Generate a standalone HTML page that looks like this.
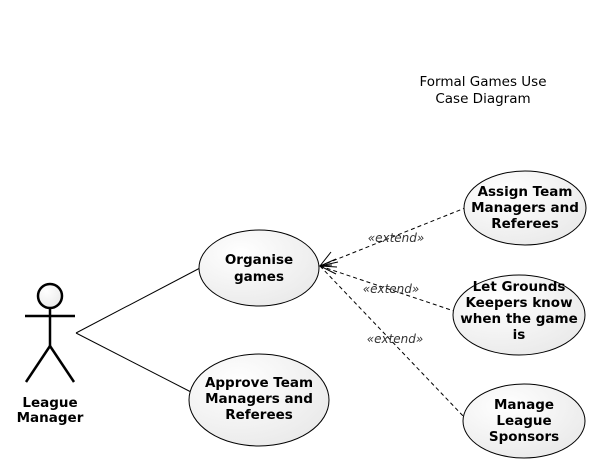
<!DOCTYPE html>
<html><head><meta charset="utf-8"><style>
html,body{margin:0;padding:0;background:#fff;}
svg{display:block;}
text{font-family:"DejaVu Sans","Liberation Sans",sans-serif;}
.b{font-weight:bold;font-size:13.5px;}
.e{font-style:italic;font-size:12px;fill:#333;}
</style></head><body>
<svg width="609" height="473" viewBox="0 0 609 473" xmlns="http://www.w3.org/2000/svg">
<defs>
<radialGradient id="g" cx="0.35" cy="0.3" r="0.9">
<stop offset="0" stop-color="#ffffff"/><stop offset="1" stop-color="#e6e6e6"/>
</radialGradient>
</defs>
<text x="483" y="86" font-size="13.5" text-anchor="middle">Formal Games Use</text>
<text x="483" y="103" font-size="13.5" text-anchor="middle">Case Diagram</text>

<circle cx="50" cy="296" r="12" fill="url(#g)" stroke="#000" stroke-width="2.5"/>
<line x1="50" y1="308" x2="50" y2="347" stroke="#000" stroke-width="2.5"/>
<line x1="25" y1="316" x2="75" y2="316" stroke="#000" stroke-width="2.5"/>
<line x1="50" y1="346" x2="26" y2="382" stroke="#000" stroke-width="2.5"/>
<line x1="50" y1="346" x2="74" y2="382" stroke="#000" stroke-width="2.5"/>
<text class="b" x="50" y="407" text-anchor="middle">League</text>
<text class="b" x="50" y="422" text-anchor="middle">Manager</text>

<line x1="76" y1="333" x2="200" y2="268" stroke="#000" stroke-width="1"/>
<line x1="76" y1="333" x2="191" y2="392" stroke="#000" stroke-width="1"/>

<g stroke="#000" stroke-width="1" stroke-dasharray="4,3" fill="none">
<line x1="320" y1="266" x2="465" y2="208"/>
<line x1="320" y1="266" x2="454" y2="311"/>
<line x1="320" y1="266" x2="465" y2="418"/>
</g>
<g stroke="#000" stroke-width="1" fill="none">
<polyline points="331,252 320,266 338,262"/>
<polyline points="336,259 320,266 337,267"/>
<polyline points="332,265 320,266 336,274"/>
</g>
<text class="e" x="396" y="242" text-anchor="middle">«extend»</text>
<text class="e" x="391" y="293" text-anchor="middle">«extend»</text>
<text class="e" x="395" y="343" text-anchor="middle">«extend»</text>

<g fill="url(#g)" stroke="#000" stroke-width="1">
<ellipse cx="259" cy="268" rx="60" ry="38"/>
<ellipse cx="259" cy="400" rx="70" ry="46"/>
<ellipse cx="525" cy="208" rx="61" ry="37"/>
<ellipse cx="519" cy="315" rx="66" ry="40"/>
<ellipse cx="524" cy="421" rx="61" ry="37"/>
</g>
<g text-anchor="middle">
<text class="b" x="259" y="264">Organise</text>
<text class="b" x="259" y="281">games</text>
<text class="b" x="259" y="387">Approve Team</text>
<text class="b" x="259" y="403">Managers and</text>
<text class="b" x="259" y="419">Referees</text>
<text class="b" x="525" y="196">Assign Team</text>
<text class="b" x="525" y="212">Managers and</text>
<text class="b" x="525" y="228">Referees</text>
<text class="b" x="519" y="291">Let Grounds</text>
<text class="b" x="519" y="307">Keepers know</text>
<text class="b" x="519" y="323">when the game</text>
<text class="b" x="519" y="339">is</text>
<text class="b" x="524" y="409">Manage</text>
<text class="b" x="524" y="425">League</text>
<text class="b" x="524" y="441">Sponsors</text>
</g>
</svg>
</body></html>
